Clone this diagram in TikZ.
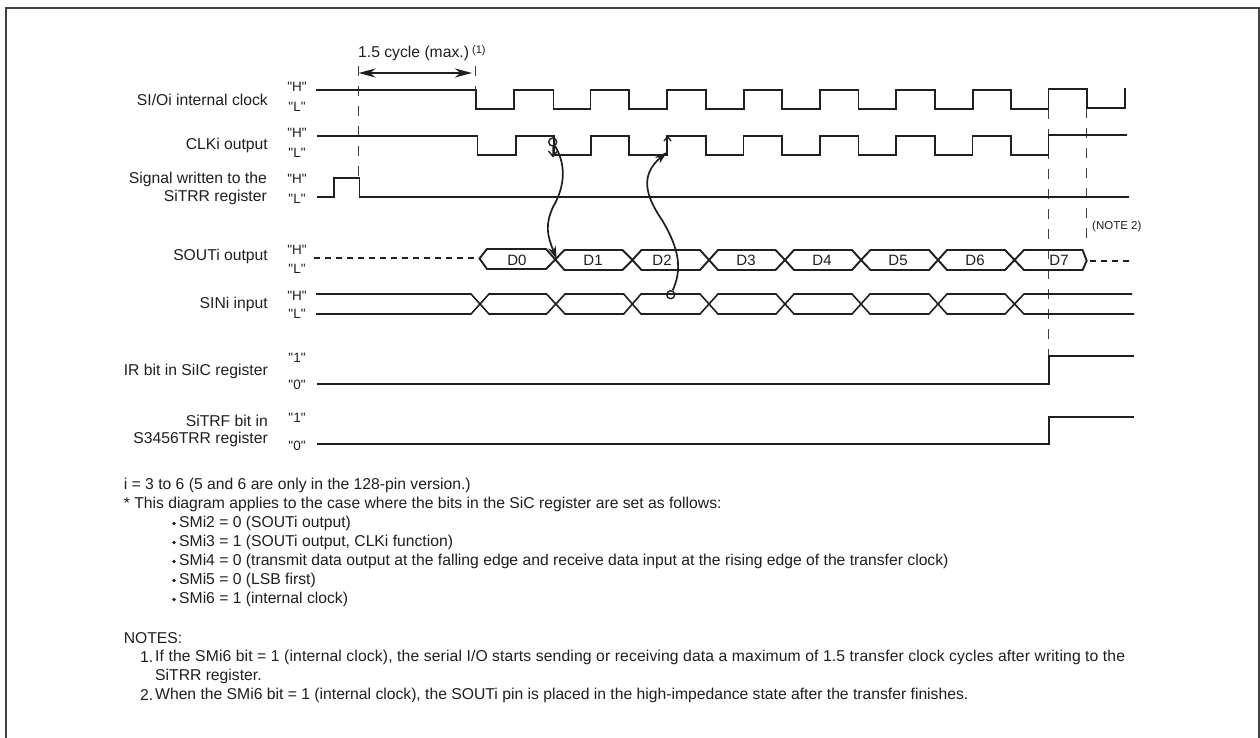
\documentclass[tikz,border=0pt]{standalone}
\usepackage{fontspec}
\setmainfont{Liberation Sans}
\newfontfamily\plainq{Liberation Sans}
\usetikzlibrary{arrows.meta}
\tikzset{
  sig/.style={line width=1.9pt,color=ink,line join=miter},
  thin sig/.style={line width=1.6pt,color=ink},
  guide/.style={line width=1pt,color=ink!85,dash pattern=on 10pt off 10pt},
  floatline/.style={line width=1.9pt,color=ink,dash pattern=on 6pt off 5pt},
  lab/.style={anchor=east,inner sep=0pt,font=\fontsize{15.7}{19}\selectfont,color=ink},
  lvl/.style={anchor=center,inner sep=0pt,font=\plainq\fontsize{13.5}{15}\selectfont,color=ink},
  dat/.style={anchor=center,inner sep=0pt,font=\fontsize{15}{18}\selectfont,color=ink},
  txt/.style={anchor=west,inner sep=0pt,font=\fontsize{15.7}{19}\selectfont,color=ink},
  curvearrow/.style={line width=1.7pt,color=ink,-{Stealth[length=13pt,width=8pt]}},
  ring/.style={circle,draw=ink,line width=1.4pt,minimum size=8pt,inner sep=0pt}
}
\definecolor{ink}{HTML}{1F1F1F}
\begin{document}
\begin{tikzpicture}[x=1pt,y=-1pt]
\useasboundingbox (0,0) rectangle (1260,738);
\fill[white] (0,0) rectangle (1260,738);
% frame
\draw[line width=2pt,color=ink!85] (5.5,738) -- (5.5,8) -- (1259,8) -- (1259,738);
% guides
\draw[guide] (358,66) -- (358,178);
\draw[guide] (475.5,66) -- (475.5,90);
\draw[guide] (1048.5,109) -- (1048.5,356);
\draw[guide] (1086,108) -- (1086,243);
% clock
\draw[sig] (316,90) -- (476,90) -- (476,109)
 -- (514,109) -- (514,90) -- (553.5,90) -- (553.5,109)
 -- (590.5,109) -- (590.5,90) -- (629,90) -- (629,109)
 -- (667,109) -- (667,90) -- (706,90) -- (706,109)
 -- (743.6,109) -- (743.6,90) -- (782,90) -- (782,109)
 -- (820,109) -- (820,90) -- (858.5,90) -- (858.5,109)
 -- (896,109) -- (896,90) -- (935,90) -- (935,109)
 -- (972.6,109) -- (972.6,90) -- (1010.7,90) -- (1010.7,109)
 -- (1048.5,109) -- (1048.5,89) -- (1087,89) -- (1087,108) -- (1125,108) -- (1125,88);
% CLK
\draw[thin sig] (317,136) -- (477.5,136) -- (477.5,155)
 -- (515.7,155) -- (515.7,136) -- (554,136) -- (554,155)
 -- (591,155) -- (591,136) -- (629,136) -- (629,155)
 -- (667,155) -- (667,136) -- (706,136) -- (706,155)
 -- (743.6,155) -- (743.6,136) -- (782,136) -- (782,155)
 -- (820,155) -- (820,136) -- (858.5,136) -- (858.5,155)
 -- (896,155) -- (896,136) -- (935,136) -- (935,155)
 -- (972.6,155) -- (972.6,136) -- (1010.7,136) -- (1010.7,155)
 -- (1048.5,155) -- (1048.5,135) -- (1127,135);
% write signal
\draw[sig] (317,197) -- (334,197) -- (334,178) -- (359.5,178) -- (359.5,197) -- (1129,197);
% SOUT
\draw[floatline] (314,258) -- (478,258);
\draw[sig] (479.5,258.5) -- (487,249) -- (546,249) -- (555.3,259.5) -- (564.4,250) -- (622.5,250) -- (632.4,260)
 -- (641.5,250) -- (700,250) -- (709,260) -- (718,250) -- (775.5,250) -- (785,260)
 -- (794,250) -- (852,250) -- (861,260) -- (870.5,250) -- (929,250) -- (938,260)
 -- (947,250) -- (1005,250) -- (1014.5,260) -- (1024,250) -- (1082.6,250) -- (1086.7,260.7) -- (1082.6,270)
 -- (1024,270) -- (1014.5,260) -- (1005,270) -- (947,270) -- (938,260)
 -- (929,270) -- (870.5,270) -- (861,260) -- (852,270) -- (794,270) -- (785,260)
 -- (775.5,270) -- (718,270) -- (709,260) -- (700,270) -- (641.5,270) -- (632.4,260)
 -- (622.5,270) -- (564.4,270) -- (555.3,259.5) -- (546,269) -- (487,269) -- cycle;
\draw[floatline] (1090,261) -- (1129,261);
% SIN
\draw[thin sig] (316,294) -- (471,294) -- (489,314) -- (546.6,314) -- (565,294) -- (623.7,294) -- (641,314)
 -- (700,314) -- (718,294) -- (776,294) -- (794,314) -- (852,314) -- (870,294)
 -- (929,294) -- (947,314) -- (1005,314) -- (1024,294) -- (1132,294);
\draw[thin sig] (316,314) -- (471,314) -- (489,294) -- (546.6,294) -- (565,314) -- (623.7,314) -- (641,294)
 -- (700,294) -- (718,314) -- (776,314) -- (794,294) -- (852,294) -- (870,314)
 -- (929,314) -- (947,294) -- (1005,294) -- (1024,314) -- (1134,314);
\draw[line width=2.2pt,color=ink] (1073,294) -- (1083,294) (1051,314) -- (1082,314);
% IR, TRF
\draw[sig] (317,384) -- (1048.7,384) -- (1048.7,356) -- (1134,356);
\draw[sig] (317,444) -- (1048.7,444) -- (1048.7,417) -- (1134,417);
% double arrow
\draw[line width=2.4pt,color=ink,{Stealth[length=17pt,width=9pt]}-{Stealth[length=17pt,width=9pt]}] (358.6,73) -- (472,73);
% causal curves
\node[ring] (ra) at (552.7,142) {};
\coordinate (ta) at (556.7,259);
\node[ring] (rb) at (670.7,294.7) {};
\coordinate (tb) at (667,152);
\draw[curvearrow] (ra) .. controls (568,168) and (563,190) .. (553,207) .. controls (545,225) and (547,235) .. (ta);
\draw[curvearrow] (rb) .. controls (682,270) and (680,250) .. (662,220) .. controls (645,195) and (640,175) .. (tb);
\draw[line width=1.3pt,color=ink] (548.5,151) -- (553,156.5) -- (557.5,151) (553,147) -- (553,156);
\draw[line width=1.3pt,color=ink] (664,141) -- (667.5,136.5) -- (671,141);
% text
\node[txt] (cyc) at (358,53) {1.5 cycle (max.)};
\node[txt,font=\fontsize{11}{12}\selectfont] (one) at (472,51) {(1)};
\node[lab] (l1) at (268,100) {SI/Oi internal clock};
\node[lab] (l2) at (268,145) {CLKi output};
\node[lab] (l3) at (267,179) {Signal written to the};
\node[lab] (l3b) at (267,197) {SiTRR register};
\node[lab] (l4) at (268,256) {SOUTi output};
\node[lab] (l5) at (268,304) {SINi input};
\node[lab] (l6) at (268,371) {IR bit in SiIC register};
\node[lab] (l7) at (268,421) {SiTRF bit in};
\node[lab] (l7b) at (268,439) {S3456TRR register};
\node[lvl] (h1) at (297,87) {"H"}; \node[lvl] (g1) at (297,107) {"L"};
\node[lvl] (h2) at (297,133) {"H"}; \node[lvl] (g2) at (297,153) {"L"};
\node[lvl] (h3) at (297,179) {"H"}; \node[lvl] (g3) at (297,199) {"L"};
\node[lvl] (h4) at (297,250) {"H"}; \node[lvl] (g4) at (297,269) {"L"};
\node[lvl] (h5) at (297,296) {"H"}; \node[lvl] (g5) at (297,314) {"L"};
\node[lvl] (h6) at (297,358) {"1"}; \node[lvl] (g6) at (297,385) {"0"};
\node[lvl] (h7) at (297,418) {"1"}; \node[lvl] (g7) at (297,446) {"0"};
\node[dat] (d0) at (517,260) {D0};
\node[dat] (d1) at (593,260) {D1};
\node[dat] (d2) at (662,260) {D2};
\node[dat] (d3) at (746,260) {D3};
\node[dat] (d4) at (822,260) {D4};
\node[dat] (d5) at (898,260) {D5};
\node[dat] (d6) at (975,260) {D6};
\node[dat] (d7) at (1059,260) {D7};
\node[txt,font=\fontsize{11.5}{13}\selectfont] (n2) at (1092,227) {(NOTE 2)};
\node[txt] (a1) at (123.6,485) {i = 3 to 6 (5 and 6 are only in the 128-pin version.)};
\node[txt] (a2) at (123.6,504) {* This diagram applies to the case where the bits in the SiC register are set as follows:};
\foreach \y/\t/\n in {523/{SMi2 = 0 (SOUTi output)}/b1,542/{SMi3 = 1 (SOUTi output, CLKi function)}/b2,561/{SMi4 = 0 (transmit data output at the falling edge and receive data input at the rising edge of the transfer clock)}/b3,580/{SMi5 = 0 (LSB first)}/b4,599/{SMi6 = 1 (internal clock)}/b5}{
  \fill[ink] (174,\y+0.5) circle (1.8pt);
  \node[txt] (\n) at (179,\y) {\t};
}
\node[txt] (nt) at (123.6,638) {NOTES:};
\node[txt] (n1a) at (140,657) {1.};
\node[txt] (n1b) at (155,657) {\addfontfeature{LetterSpace=0.9}If the SMi6 bit = 1 (internal clock), the serial I/O starts sending or receiving data a maximum of 1.5 transfer clock cycles after writing to the};
\node[txt] (n1c) at (155,676) {SiTRR register.};
\node[txt] (n2a) at (140,695) {2.};
\node[txt] (n2b) at (155,695) {When the SMi6 bit = 1 (internal clock), the SOUTi pin is placed in the high-impedance state after the transfer finishes.};
\end{tikzpicture}
\end{document}
